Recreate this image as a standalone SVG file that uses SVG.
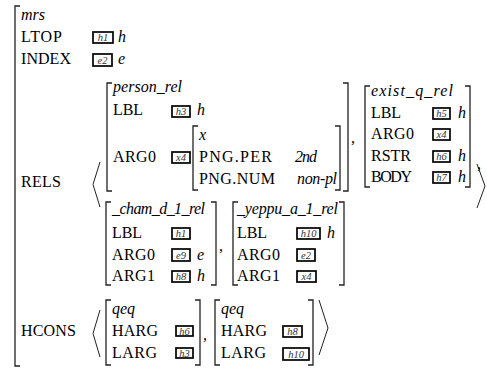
<svg xmlns="http://www.w3.org/2000/svg" width="487" height="370" viewBox="0 0 487 370">
<style>
text{font-family:"Liberation Serif","Times New Roman",serif;font-size:16px;fill:#000}
.i{font-style:italic}
.b{fill:#fff;stroke:#000;stroke-width:1.7}
.bt{font-size:10.5px;font-style:italic;text-anchor:middle;fill:#333}
.br{fill:none;stroke:#222;stroke-width:1.3}
.ang{fill:none;stroke:#222;stroke-width:1}
</style>
<g id="mrs">
<path class="br" d="M20 6H15V366H20"/>
<text x="21" y="20" class="i">mrs</text>
<text x="21" y="42" textLength="41">LTOP</text>
<rect class="b" x="93" y="32" width="20" height="11"/><text class="bt" x="103" y="41">h1</text>
<text x="118" y="42" class="i">h</text>
<text x="21" y="64" textLength="50">INDEX</text>
<rect class="b" x="93" y="54" width="19" height="12"/><text class="bt" x="102.5" y="63.5">e2</text>
<text x="118" y="64" class="i">e</text>
<text x="21" y="187" textLength="40">RELS</text>
<text x="21" y="336" textLength="55">HCONS</text>
</g>
<g id="rels-delims">
<path class="ang" d="M100 162L93 184.5L100 207"/>
<path class="ang" d="M477 164L485 186L477 208"/>
<text x="351" y="143">,</text>
<text x="477" y="169">,</text>
<text x="219" y="251">,</text>
</g>
<g id="person_rel">
<path class="br" d="M112 83H107V191H112"/>
<path class="br" d="M343 83H348V191H343"/>
<text x="113" y="92" class="i" textLength="69">person_rel</text>
<text x="113" y="115" textLength="30">LBL</text>
<rect class="b" x="172" y="106" width="18" height="11"/><text class="bt" x="181" y="115">h3</text>
<text x="197" y="115" class="i">h</text>
<text x="113" y="162" textLength="43">ARG0</text>
<rect class="b" x="172" y="152" width="18" height="11"/><text class="bt" x="181" y="161">x4</text>
<g id="png">
<path class="br" d="M198 126H193V190H198"/>
<path class="br" d="M335 126H340V190H335"/>
<text x="199" y="140" class="i">x</text>
<text x="199" y="162" textLength="73">PNG.PER</text>
<text x="295" y="162" class="i" textLength="22">2nd</text>
<text x="199" y="184" textLength="76">PNG.NUM</text>
<text x="297" y="184" class="i" textLength="40">non-pl</text>
</g>
</g>
<g id="exist_q_rel">
<path class="br" d="M370 86H365V187H370"/>
<path class="br" d="M465 86H470V187H465"/>
<text x="371" y="96" class="i" textLength="82">exist_q_rel</text>
<text x="371" y="118" textLength="30">LBL</text>
<rect class="b" x="433" y="108" width="17" height="11"/><text class="bt" x="441.5" y="117">h5</text>
<text x="458" y="118" class="i">h</text>
<text x="371" y="139" textLength="43">ARG0</text>
<rect class="b" x="433" y="129" width="17" height="11"/><text class="bt" x="441.5" y="138">x4</text>
<text x="371" y="161" textLength="40">RSTR</text>
<rect class="b" x="433" y="151" width="17" height="11"/><text class="bt" x="441.5" y="160">h6</text>
<text x="458" y="161" class="i">h</text>
<text x="371" y="182" textLength="41">BODY</text>
<rect class="b" x="433" y="172" width="17" height="11"/><text class="bt" x="441.5" y="181">h7</text>
<text x="458" y="182" class="i">h</text>
</g>
<g id="cham_d_1_rel">
<path class="br" d="M111 202H106V285H111"/>
<path class="br" d="M211 202H216V285H211"/>
<text x="112" y="214" class="i" textLength="93">_cham_d_1_rel</text>
<text x="112" y="238" textLength="30">LBL</text>
<rect class="b" x="172" y="228" width="18" height="11"/><text class="bt" x="181" y="237">h1</text>
<text x="112" y="260" textLength="43">ARG0</text>
<rect class="b" x="172" y="249" width="18" height="12"/><text class="bt" x="181" y="258.5">e9</text>
<text x="197" y="260" class="i">e</text>
<text x="112" y="281" textLength="43">ARG1</text>
<rect class="b" x="172" y="271" width="18" height="11"/><text class="bt" x="181" y="280">h8</text>
<text x="197" y="281" class="i">h</text>
</g>
<g id="yeppu_a_1_rel">
<path class="br" d="M238 202H233V285H238"/>
<path class="br" d="M339 202H344V285H339"/>
<text x="237" y="214" class="i" textLength="101">_yeppu_a_1_rel</text>
<text x="237" y="238" textLength="30">LBL</text>
<rect class="b" x="297" y="228" width="23" height="11"/><text class="bt" x="308.5" y="237">h10</text>
<text x="327" y="238" class="i">h</text>
<text x="237" y="260" textLength="43">ARG0</text>
<rect class="b" x="297" y="249" width="18" height="12"/><text class="bt" x="306" y="258.5">e2</text>
<text x="237" y="281" textLength="43">ARG1</text>
<rect class="b" x="297" y="271" width="19" height="11"/><text class="bt" x="306.5" y="280">x4</text>
</g>
<g id="hcons-delims">
<path class="ang" d="M100 310L93 333.5L100 357"/>
<path class="ang" d="M319 300L328 328L319 355"/>
<text x="203" y="340">,</text>
</g>
<g id="qeq1">
<path class="br" d="M111 300H106V365H111"/>
<path class="br" d="M195 300H200V365H195"/>
<text x="112" y="314" class="i">qeq</text>
<text x="112" y="336" textLength="46">HARG</text>
<rect class="b" x="176" y="326" width="17" height="10"/><text class="bt" x="184.5" y="334.5">h6</text>
<text x="112" y="358" textLength="45">LARG</text>
<rect class="b" x="176" y="348" width="17" height="10"/><text class="bt" x="184.5" y="356.5">h3</text>
</g>
<g id="qeq2">
<path class="br" d="M220 300H215V365H220"/>
<path class="br" d="M308 300H313V365H308"/>
<text x="221" y="314" class="i">qeq</text>
<text x="221" y="336" textLength="46">HARG</text>
<rect class="b" x="283" y="326" width="19" height="11"/><text class="bt" x="292.5" y="335">h8</text>
<text x="221" y="358" textLength="45">LARG</text>
<rect class="b" x="283" y="348" width="26" height="12"/><text class="bt" x="296" y="357.5">h10</text>
</g>
</svg>
